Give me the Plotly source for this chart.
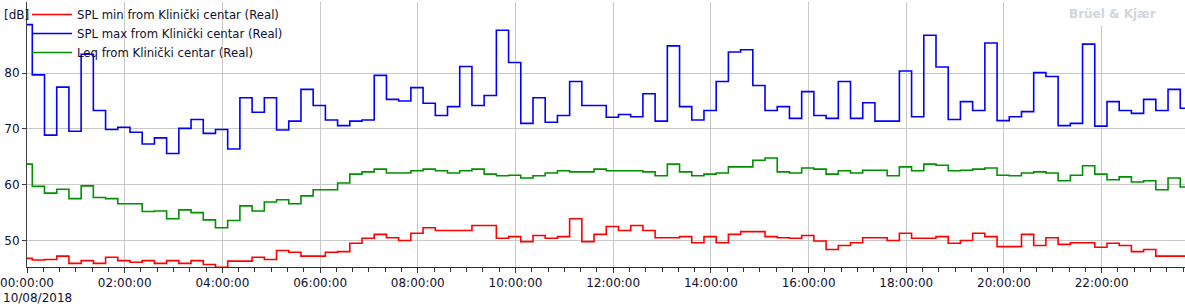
import pandas as pd
import plotly.graph_objects as go

# 15-minute intervals (step start times), first interval begins before the view
times = pd.date_range("2018-08-09 23:51:30", periods=97, freq="15min")

spl_max = [88.7, 79.7, 68.9, 77.5, 69.6, 83.4, 73.3, 69.9, 70.3, 69.4, 67.3, 68.4, 65.6,
           70.1, 71.7, 69.2, 69.9, 66.4, 75.6, 73.0, 75.6, 69.8, 71.4, 77.1, 74.2, 71.6,
           70.6, 71.4, 71.6, 79.6, 75.3, 75.0, 77.4, 74.6, 72.4, 74.0, 81.2, 74.2, 76.0,
           87.7, 81.9, 71.0, 75.6, 71.2, 72.4, 78.5, 74.2, 74.2, 72.1, 72.6, 72.2, 76.3,
           71.4, 84.9, 74.0, 71.6, 73.3, 78.5, 83.8, 84.2, 77.8, 73.3, 74.0, 71.9, 76.7,
           72.4, 71.9, 78.5, 71.9, 74.7, 71.4, 71.4, 80.4, 72.2, 86.8, 81.1, 71.7, 74.9,
           73.3, 85.4, 71.5, 72.2, 73.1, 80.1, 79.4, 70.6, 71.0, 85.2, 70.5, 74.9, 73.3,
           72.8, 75.3, 73.3, 77.1, 73.7]

leq = [63.7, 59.7, 58.5, 59.2, 57.5, 59.8, 57.7, 57.5, 56.6, 56.6, 55.2, 55.3, 53.9,
       55.5, 55.0, 53.7, 52.3, 53.6, 56.2, 55.3, 56.9, 57.3, 56.6, 58.0, 59.1, 59.1,
       60.3, 61.9, 62.3, 62.8, 62.1, 62.1, 62.5, 62.8, 62.5, 62.1, 62.5, 62.8, 61.9,
       61.6, 61.7, 61.2, 61.6, 62.1, 62.5, 62.3, 62.3, 62.8, 62.5, 62.5, 62.5, 62.3,
       61.6, 63.7, 62.3, 61.6, 61.9, 62.1, 63.2, 63.2, 64.4, 64.8, 62.3, 62.1, 63.0,
       62.8, 61.9, 62.5, 62.1, 62.6, 62.6, 61.6, 63.2, 62.5, 63.7, 63.5, 62.5, 62.6,
       62.8, 63.0, 61.7, 61.6, 62.1, 62.3, 62.1, 60.7, 61.7, 63.4, 61.9, 60.9, 61.4,
       60.5, 60.7, 59.1, 61.2, 59.6]

spl_min = [46.8, 46.5, 46.6, 47.2, 45.9, 46.4, 45.9, 47.0, 46.4, 46.1, 46.4, 45.9, 46.4,
           45.9, 46.4, 45.7, 45.2, 46.3, 46.3, 47.0, 46.6, 48.2, 47.9, 47.2, 47.2, 47.9,
           48.0, 49.5, 50.4, 51.1, 50.5, 50.0, 51.3, 52.3, 51.8, 51.8, 51.8, 52.7, 52.7,
           50.4, 50.7, 49.8, 50.9, 50.4, 50.7, 53.9, 49.8, 51.1, 52.5, 51.8, 52.7, 51.8,
           50.5, 50.5, 50.7, 49.6, 50.7, 49.6, 51.1, 51.6, 51.6, 50.7, 50.5, 50.4, 50.9,
           49.9, 48.4, 49.1, 49.6, 50.5, 50.5, 50.0, 51.3, 50.4, 50.4, 50.7, 49.5, 50.0,
           51.3, 50.7, 48.9, 48.9, 51.1, 49.1, 50.5, 49.3, 49.6, 49.6, 48.8, 49.5, 49.1,
           48.0, 48.4, 47.2, 47.2, 47.2]

names = ["SPL min from Klinički centar (Real)",
         "SPL max from Klinički centar (Real)",
         "Leq from Klinički centar (Real)"]

x_ticks_fmt = "%H:%M:%S"
date_label = "10/08/2018"
watermark = "Brüel & Kjær"

def ext(v):
    return list(v) + [v[-1]]

FONT = "DejaVu Sans"
fig = go.Figure()
for vals, name, col in [(spl_min, names[0], "#ff0000"),
                        (spl_max, names[1], "#0000ff"),
                        (leq, names[2], "#009000")]:
    fig.add_trace(go.Scatter(x=times, y=ext(vals), mode="lines", name=name,
                             line=dict(color=col, width=1.6, shape="hv")))

fig.update_layout(
    width=1185, height=304,
    margin=dict(l=27, r=0, t=0, b=37),
    paper_bgcolor="white", plot_bgcolor="white",
    font=dict(family=FONT, size=12, color="#101030"),
    showlegend=True,
    legend=dict(x=0, y=1.008, xanchor="left", yanchor="top", bgcolor="rgba(0,0,0,0)",
                font=dict(family=FONT, size=11.7, color="#101030"),
                tracegroupgap=0, itemwidth=40),
    xaxis=dict(type="date", range=["2018-08-10 00:00:00", "2018-08-10 23:42:20"],
               tick0="2018-08-10 00:00:00", dtick=2 * 3600 * 1000, tickformat=x_ticks_fmt,
               showgrid=True, gridcolor="#c8c8c8", gridwidth=1,
               showline=True, linecolor="#303030", linewidth=1,
               ticks="outside", ticklen=5, tickcolor="#303030",
               minor=dict(dtick=20 * 60 * 1000, ticks="outside", ticklen=4,
                          tickcolor="#303030", showgrid=False),
               tickfont=dict(family=FONT, size=12, color="#101030"), zeroline=False),
    yaxis=dict(range=[45.25, 92.76], tickvals=[50, 60, 70, 80],
               showgrid=True, gridcolor="#c8c8c8", gridwidth=1,
               showline=True, linecolor="#404040", linewidth=1,
               ticks="outside", ticklen=4, tickcolor="#404040",
               tickfont=dict(family=FONT, size=12, color="#101030"), zeroline=False),
    annotations=[
        dict(text="[dB]", xref="paper", yref="paper", x=0, y=1, xanchor="left",
             yanchor="top", xshift=-25, yshift=-4, showarrow=False,
             font=dict(family=FONT, size=12, color="#101030")),
        dict(text=date_label, xref="paper", yref="paper", x=0, y=0, xanchor="left",
             yanchor="top", xshift=-26, yshift=-22, showarrow=False,
             font=dict(family=FONT, size=12, color="#101030")),
        dict(text="<b>" + watermark + "</b>", xref="paper", yref="paper", x=1, y=1,
             xanchor="right", yanchor="top", xshift=-24, yshift=0, showarrow=False,
             bgcolor="white", borderpad=4,
             font=dict(family=FONT, size=12, color="#cfd6de")),
    ],
)

fig.write_html("out.html")
